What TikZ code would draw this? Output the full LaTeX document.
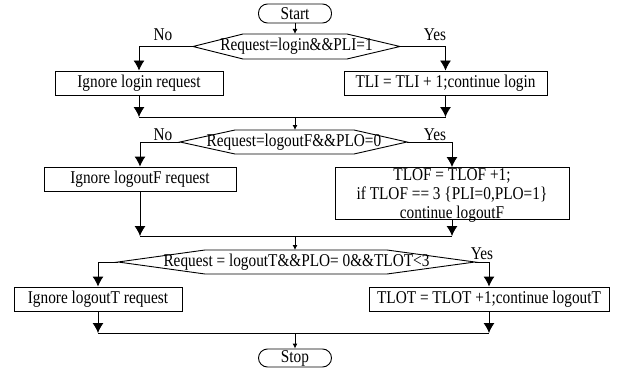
\documentclass[tikz,border=0pt]{standalone}
\usepackage{fontspec}
\setmainfont{Liberation Serif}[FakeStretch=0.85]
\usepackage{tikz}
\usetikzlibrary{positioning,arrows.meta}

\begin{document}
\begin{tikzpicture}
[x=1pt, y=-1pt,
font=\fontsize{18}{19}\selectfont,
line width=0.9pt,
termnode/.style={rectangle, rounded corners=9pt, draw, minimum width=73pt, minimum height=19pt, inner sep=0pt},
procnode/.style={rectangle, draw, minimum height=24pt, inner sep=0pt},
condtext/.style={inner sep=0pt},
bigarrow/.style={-{Latex[length=10pt,width=11pt]}},
smallarrow/.style={-{Latex[length=5pt,width=5pt]}},
]
\useasboundingbox (0,0) rectangle (624,369);

% first test: login
\node[termnode]	(start) at (295,13.5) {Start};
\node[condtext]	(dec1) at (296.5,46.5) {Request=login\&\&PLI=1};
\coordinate (dec1n) at (295,34);
\coordinate (dec1w) at (193,46.5);
\coordinate (dec1e) at (400,46.5);
\draw (dec1w) -- (243,34) -- (347,34) -- (dec1e) -- (347,59) -- (243,59) -- cycle;
\node[procnode, minimum width=168pt]	(ign1) at (139,83) {Ignore login request};
\node[procnode, minimum width=203pt]	(tli) at (445.5,83) {TLI = TLI + 1;continue login};
\node (no1) at (163,35) {No};
\node (yes1) at (435,35) {Yes};
\coordinate (join1) at (295,117);

\draw[smallarrow] (start.south) -- (dec1n);
\draw[bigarrow] (dec1w) -| (ign1.north);
\draw[bigarrow] (dec1e) -| (tli.north);
\draw[bigarrow] (ign1.south) -- (ign1.south |- join1);
\draw[bigarrow] (tli.south) -- (tli.south |- join1);
\draw (ign1.south |- join1) -- (tli.south |- join1);

% second test: logoutF
\node[condtext]	(dec2) at (294,142) {Request=logoutF\&\&PLO=0};
\coordinate (dec2n) at (295,130);
\coordinate (dec2w) at (180,142);
\coordinate (dec2e) at (407,142);
\draw (dec2w) -- (235,130) -- (354,130) -- (dec2e) -- (354,154) -- (235,154) -- cycle;
\node[procnode, minimum width=192pt]	(ign2) at (140,179) {Ignore logoutF request};
\node[procnode, minimum width=234pt, minimum height=52pt]	(tlof) at (452,193.5) {};
\node[align=center, inner sep=0pt]	(tloftext) at (452,195.5) {TLOF = TLOF +1;\\ if TLOF == 3 \{PLI=0,PLO=1\}\\ continue logoutF};
\node (no2) at (163,135) {No};
\node (yes2) at (435,135) {Yes};
\coordinate (join2) at (295,236);

\draw[smallarrow] (join1) -- (dec2n);
\draw[bigarrow] (dec2w) -| (ign2.north);
\draw[bigarrow] (dec2e) -| (tlof.north);
\draw[bigarrow] (ign2.south) -- (ign2.south |- join2);
\draw[bigarrow] (tlof.south) -- (tlof.south |- join2);
\draw (ign2.south |- join2) -- (tlof.south |- join2);

% third test: logoutT
\node[condtext]	(dec3) at (296.5,262) {Request = logoutT\&\&PLO= 0\&\&TLOT<3};
\coordinate (dec3n) at (295,250);
\coordinate (dec3w) at (118,262);
\coordinate (dec3e) at (475,262);
\draw (dec3w) -- (205,250) -- (387,250) -- (dec3e) -- (387,274) -- (205,274) -- cycle;
\node[procnode, minimum width=168pt]	(ign3) at (98,299) {Ignore logoutT request};
\node[procnode, minimum width=240pt]	(tlot) at (489,299) {TLOT = TLOT +1;continue logoutT};
\node (yes3) at (482,254) {Yes};
\coordinate (join3) at (295,333);
\node[termnode, minimum height=18pt]	(stop) at (295,358) {Stop};

\draw[smallarrow] (join2) -- (dec3n);
\draw[bigarrow] (dec3w) -| (ign3.north);
\draw[bigarrow] (dec3e) -| (tlot.north);
\draw[bigarrow] (ign3.south) -- (ign3.south |- join3);
\draw[bigarrow] (tlot.south) -- (tlot.south |- join3);
\draw (ign3.south |- join3) -- (tlot.south |- join3);
\draw[smallarrow] (join3) -- (stop.north);
\end{tikzpicture}
\end{document}
